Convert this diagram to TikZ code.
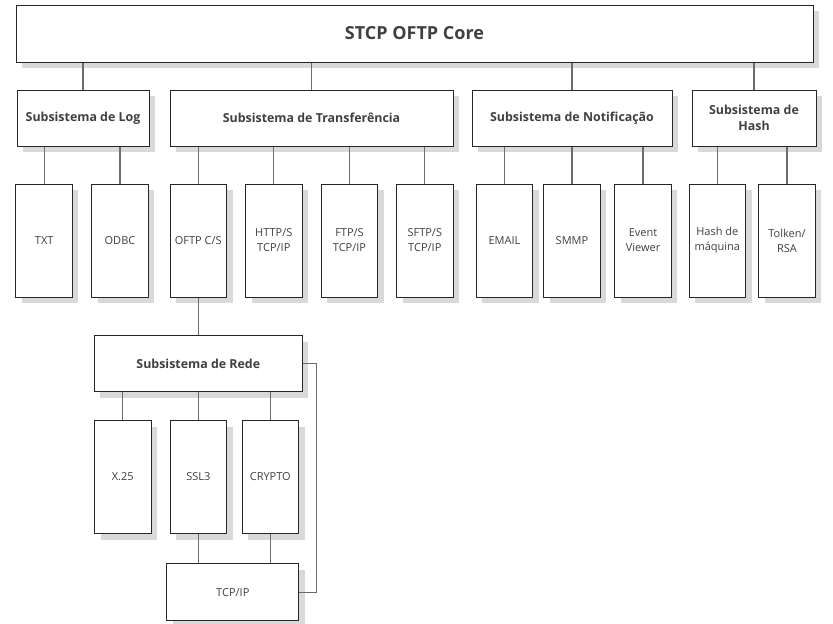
\documentclass[tikz,border=0pt]{standalone}
\usepackage{fontspec}
\setmainfont{Open Sans}
\usetikzlibrary{shadows}
\definecolor{boxline}{HTML}{262626}
\definecolor{conline}{HTML}{6B6B6B}
\definecolor{txt}{HTML}{404040}
\definecolor{shade}{HTML}{D9D9D9}
\tikzset{
  box/.style={draw=boxline, line width=1pt, fill=white, rectangle, inner sep=2pt,
    text=txt, align=center,
    drop shadow={shadow xshift=6pt, shadow yshift=-6pt, fill=shade, opacity=1}},
  corebox/.style={box, minimum width=797pt, minimum height=57pt, font=\fontsize{18}{21}\selectfont\bfseries},
  subbox/.style={box, minimum height=56pt, font=\fontsize{12.4}{15.5}\selectfont\bfseries},
  leaf/.style={box, minimum width=56.5pt, minimum height=113pt, font=\fontsize{11}{15}\selectfont},
  con/.style={draw=conline, line width=1.3pt}
}
\begin{document}
\begin{tikzpicture}[x=1pt, y=-1pt]
\useasboundingbox (0,0) rectangle (833,624);
% core
\node[corebox] (core) at (414.5,33.5) {STCP OFTP Core};
% level 2
\node[subbox, minimum width=132pt] (log) at (83,118) {Subsistema de Log};
\node[subbox, minimum width=283pt] (trans) at (311.5,118) {Subsistema de Transferência};
\node[subbox, minimum width=200pt] (notif) at (572,118) {Subsistema de Notificação};
\node[subbox, minimum width=124pt] (hash) at (754,118) {Subsistema de\\Hash};
% level 3
\node[leaf] (txt) at (44.2,240.5) {TXT};
\node[leaf] (odbc) at (120,240.5) {ODBC};
\node[leaf] (oftp) at (198.3,240.5) {OFTP C/S};
\node[leaf] (http) at (273.8,240.5) {HTTP/S\\TCP/IP};
\node[leaf] (ftp) at (349.5,240.5) {FTP/S\\TCP/IP};
\node[leaf] (sftp) at (424.8,240.5) {SFTP/S\\TCP/IP};
\node[leaf] (email) at (504.5,240.5) {EMAIL};
\node[leaf] (smmp) at (572,240.5) {SMMP};
\node[leaf] (event) at (643,240.5) {Event\\Viewer};
\node[leaf] (hmaq) at (717.3,240.5) {Hash de\\máquina};
\node[leaf] (tolken) at (787,240.5) {Tolken/\\RSA};
% network subsystem
\node[subbox, minimum width=208pt] (rede) at (198.3,363.7) {Subsistema de Rede};
\node[leaf] (x25) at (122.8,477) {X.25};
\node[leaf] (ssl) at (198.3,477) {SSL3};
\node[leaf] (crypto) at (270.3,477) {CRYPTO};
\node[box, minimum width=132pt, minimum height=57pt, font=\fontsize{11}{15}\selectfont] (tcp) at (232.8,592.3) {TCP/IP};
\coordinate (side) at (316.7,363.7);
% connectors
\foreach \c in {log,trans,notif,hash}
  \draw[con] (core.south -| \c.north) -- (\c.north);
\foreach \c in {txt,odbc}
  \draw[con] (log.south -| \c.north) -- (\c.north);
\foreach \c in {oftp,http,ftp,sftp}
  \draw[con] (trans.south -| \c.north) -- (\c.north);
\foreach \c in {email,smmp,event}
  \draw[con] (notif.south -| \c.north) -- (\c.north);
\foreach \c in {hmaq,tolken}
  \draw[con] (hash.south -| \c.north) -- (\c.north);
\draw[con] (oftp.south) -- (rede.north -| oftp.south);
\foreach \c in {x25,ssl,crypto}
  \draw[con] (rede.south -| \c.north) -- (\c.north);
\draw[con] (ssl.south) -- (tcp.north -| ssl.south);
\draw[con] (crypto.south) -- (tcp.north -| crypto.south);
\draw[con] (rede.east) -- (side) |- (tcp.east);
\end{tikzpicture}
\end{document}
